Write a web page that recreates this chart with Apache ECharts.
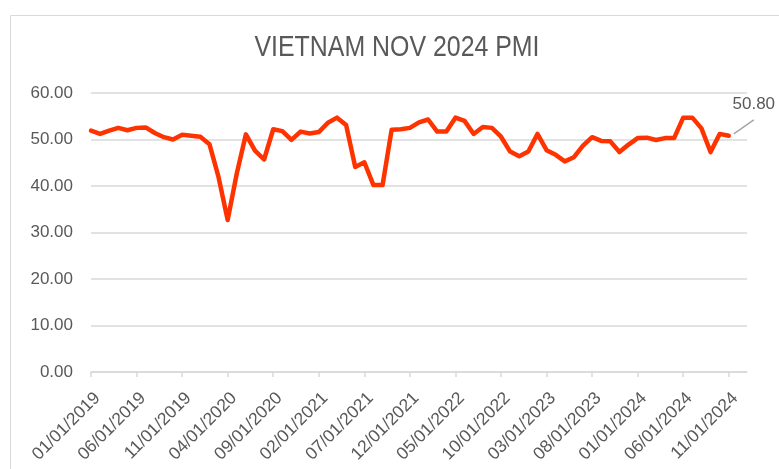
<!DOCTYPE html>
<html>
<head>
<meta charset="utf-8">
<script src="https://cdn.jsdelivr.net/npm/echarts@6/dist/echarts.min.js"></script>
<style>
html,body{margin:0;padding:0;background:#fff;}
#c{width:779px;height:469px;}
</style>
</head>
<body>
<div id="c"></div>
<script>
const titleText = 'VIETNAM NOV 2024 PMI';
const categories = [
'01/01/2019','02/01/2019','03/01/2019','04/01/2019','05/01/2019','06/01/2019','07/01/2019','08/01/2019','09/01/2019','10/01/2019','11/01/2019','12/01/2019',
'01/01/2020','02/01/2020','03/01/2020','04/01/2020','05/01/2020','06/01/2020','07/01/2020','08/01/2020','09/01/2020','10/01/2020','11/01/2020','12/01/2020',
'01/01/2021','02/01/2021','03/01/2021','04/01/2021','05/01/2021','06/01/2021','07/01/2021','08/01/2021','09/01/2021','10/01/2021','11/01/2021','12/01/2021',
'01/01/2022','02/01/2022','03/01/2022','04/01/2022','05/01/2022','06/01/2022','07/01/2022','08/01/2022','09/01/2022','10/01/2022','11/01/2022','12/01/2022',
'01/01/2023','02/01/2023','03/01/2023','04/01/2023','05/01/2023','06/01/2023','07/01/2023','08/01/2023','09/01/2023','10/01/2023','11/01/2023','12/01/2023',
'01/01/2024','02/01/2024','03/01/2024','04/01/2024','05/01/2024','06/01/2024','07/01/2024','08/01/2024','09/01/2024','10/01/2024','11/01/2024','12/01/2024',
'01/01/2025'
];
const pmiValues = [
51.9,51.2,51.9,52.5,52.0,52.5,52.6,51.4,50.5,50.0,51.0,50.8,
50.6,49.0,41.9,32.7,42.7,51.1,47.6,45.7,52.2,51.8,49.9,51.7,
51.3,51.6,53.6,54.7,53.1,44.1,45.1,40.2,40.2,52.1,52.2,52.5,
53.7,54.3,51.7,51.7,54.7,54.0,51.2,52.7,52.5,50.6,47.4,46.4,
47.4,51.2,47.7,46.7,45.3,46.2,48.7,50.5,49.7,49.6,47.3,48.9,
50.3,50.4,49.9,50.3,50.3,54.7,54.7,52.4,47.3,51.2,50.8,null,
null
];
const yTicks = [0,10,20,30,40,50,60];
const labelIndex = 70;

const chart = echarts.init(document.getElementById('c'), null, {renderer:'canvas'});
const textColor = '#595959';
const gridColor = '#d9d9d9';
const fontFam = '"Liberation Sans", Arial, sans-serif';
chart.setOption({
  animation:false,
  grid:{left:91, right:32, top:93, bottom:97, containLabel:false},
  xAxis:{type:'category', data:categories, boundaryGap:false,
    axisLine:{lineStyle:{color:gridColor, width:1.5}},
    axisTick:{show:true, interval:4, length:5, lineStyle:{color:gridColor, width:1.5}},
    axisLabel:{interval:4, rotate:45, verticalAlign:'top', color:textColor, fontSize:17.5, fontFamily:fontFam, margin:17},
    splitLine:{show:false}},
  yAxis:{type:'value', min:0, max:60, interval:10,
    axisLine:{show:false}, axisTick:{show:false},
    axisLabel:{color:textColor, fontSize:17, fontFamily:fontFam, margin:18, formatter:v=>yTicks.includes(v)?v.toFixed(2):''},
    splitLine:{lineStyle:{color:gridColor, width:1.5}}},
  series:[{type:'line',
    data:pmiValues.map((v,i)=> i===labelIndex ? {value:v, symbol:'circle', symbolSize:1, itemStyle:{color:'#ff3300'}, label:{show:true}} : v),
    showSymbol:true, symbol:'none', connectNulls:false,
    lineStyle:{color:'#ff3300', width:4.5, cap:'round', join:'round'},
    label:{show:false, position:'top', color:textColor, fontSize:17, fontFamily:fontFam, formatter:p=>Number(p.value).toFixed(2)},
    labelLayout:{dx:25, dy:-17}
  }]
});
// leader line from the labelled point toward its label, positioned through the chart's scales
const pt = chart.convertToPixel({seriesIndex:0}, [labelIndex, pmiValues[labelIndex]]);
chart.setOption({graphic:[
  {type:'rect', left:8, top:13, shape:{width:900,height:600}, style:{fill:'none', stroke:'#d9d9d9', lineWidth:1}, silent:true},
  {type:'text', x:397, y:48, scaleX:0.83, silent:true,
    style:{text:titleText, fill:textColor, font:'normal 30px "Liberation Sans", Arial, sans-serif', textAlign:'center', textVerticalAlign:'middle'}},
  {type:'line', silent:true, shape:{x1:pt[0]+5, y1:pt[1]-2, x2:pt[0]+25, y2:pt[1]-16}, style:{stroke:'#a6a6a6', lineWidth:1.5}}
]});
</script>
</body>
</html>
